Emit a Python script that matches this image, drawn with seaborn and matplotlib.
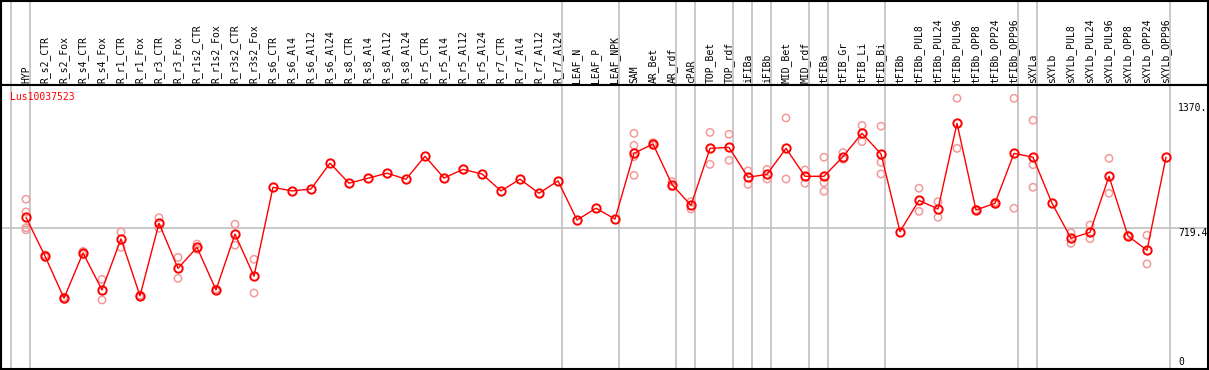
#!/usr/bin/env python3
"""
Expression profile of Lus10037523 across tissues/treatments (means + replicates).
"""
import matplotlib

matplotlib.use("Agg")
import matplotlib.pyplot as plt
import pandas as pd
import seaborn as sns

GENE = "Lus10037523"

samples = [
    "HYP", "R_s2_CTR", "R_s2_Fox", "R_s4_CTR", "R_s4_Fox", "R_r1_CTR", "R_r1_Fox",
    "R_r3_CTR", "R_r3_Fox", "R_r1s2_CTR", "R_r1s2_Fox", "R_r3s2_CTR", "R_r3s2_Fox",
    "R_s6_CTR", "R_s6_Al4", "R_s6_Al12", "R_s6_Al24", "R_s8_CTR", "R_s8_Al4",
    "R_s8_Al12", "R_s8_Al24", "R_r5_CTR", "R_r5_Al4", "R_r5_Al12", "R_r5_Al24",
    "R_r7_CTR", "R_r7_Al4", "R_r7_Al12", "R_r7_Al24", "LEAF_N", "LEAF_P", "LEAF_NPK",
    "SAM", "AR_Bet", "AR_rdf", "cPAR", "TOP_Bet", "TOP_rdf", "iFIBa", "iFIBb",
    "MID_Bet", "MID_rdf", "tFIBa", "tFIB_Gr", "tFIB_Li", "tFIB_Bi", "tFIBb",
    "tFIBb_PUL8", "tFIBb_PUL24", "tFIBb_PUL96", "tFIBb_OPP8", "tFIBb_OPP24",
    "tFIBb_OPP96", "sXYLa", "sXYLb", "sXYLb_PUL8", "sXYLb_PUL24", "sXYLb_PUL96",
    "sXYLb_OPP8", "sXYLb_OPP24", "sXYLb_OPP96",
]

means = [
    777, 576, 357, 592, 400, 665, 369, 746, 512, 621, 400, 690, 471,
    933, 914, 924, 1058, 954, 980, 1006, 975, 1094, 981, 1026, 1002,
    914, 975, 902, 966, 763, 824, 768,
    1109, 1158, 947, 839, 1135, 1140, 985, 1000, 1135, 990, 990, 1092, 1213, 1106,
    703, 865, 820, 1265, 815, 850, 1109, 1089, 850, 668, 699, 990, 680, 606, 1089,
]

replicates = [
    [871, 805, 723, 712], [582, 570], [362, 352], [600, 584], [455, 348],
    [701, 621], [373, 365], [775, 720], [569, 460], [638, 611], [404, 396],
    [741, 632], [559, 384],
    [], [], [], [], [], [], [], [], [], [], [], [], [], [], [], [], [], [], [],
    [1213, 1151, 1092, 995], [1165, 1150], [962, 936], [858, 820], [1218, 1052],
    [1208, 1073], [1018, 948], [1026, 976], [1293, 976], [1023, 954],
    [1089, 957, 912], [1113, 1078], [1254, 1170], [1250, 1063, 1002], [],
    [928, 808], [858, 777], [1395, 1135], [818, 812], [855, 845], [1395, 824],
    [1281, 1050, 933], [], [697, 642], [737, 666], [1083, 902], [683, 677],
    [684, 535], [],
]

# group dividers are drawn just right of these samples (None = before the first one)
dividers = [None, "HYP", "R_r7_Al24", "LEAF_NPK", "AR_rdf", "cPAR", "TOP_rdf",
            "iFIBa", "iFIBb", "MID_rdf", "tFIBa", "tFIB_Bi", "tFIBb_OPP96",
            "sXYLa", "sXYLb_OPP96"]

y_ticks = [0, 719.4, 1370]
y_tick_labels = ["0", "719.4", "1370."]

mean_df = pd.DataFrame({"pos": range(len(samples)), "value": means})
rep_df = pd.DataFrame(
    [(i, v) for i, reps in enumerate(replicates) for v in reps], columns=["pos", "value"]
)

sns.set_style("white")
plt.rcParams["font.family"] = ["DejaVu Sans Mono"]

W, H = 1209, 370
fig = plt.figure(figsize=(W / 100, H / 100), dpi=100)
ax_top = fig.add_axes([1 / W, 1 - 85 / H, 1206.5 / W, 84.5 / H])
ax = fig.add_axes([1 / W, 1 - 368.5 / H, 1206.5 / W, (368.5 - 85) / H], sharex=ax_top)

xlim = (-25 / 19, 1181.5 / 19)
ax.set_xlim(*xlim)
ax.set_ylim(-8, 1464)
ax_top.set_ylim(0, 1)

grey = "#c0c0c0"
div_x = [(-1 if d is None else samples.index(d)) + 4 / 19 for d in dividers]
for x in div_x:
    ax.axvline(x, color=grey, lw=1.2, zorder=0)
    ax_top.axvline(x, color=grey, lw=1.2, zorder=0)
ax.axhline(719.4, color=grey, lw=1.2, zorder=0)

sns.scatterplot(data=rep_df, x="pos", y="value", ax=ax, marker="o", s=28,
                facecolors="none", edgecolor="#f29a9a", linewidth=1.1, zorder=2)
sns.lineplot(data=mean_df, x="pos", y="value", ax=ax, color="red", lw=1,
             marker="o", markersize=6, markerfacecolor="none",
             markeredgecolor="red", markeredgewidth=1.4, zorder=3)

for i, name in enumerate(samples):
    ax_top.text(i, 2 / 84.5, name, rotation=90, ha="center", va="bottom",
                fontsize=7, color="black")

tx = (1178 - 26) / 19
for v, lab in zip(y_ticks, y_tick_labels):
    ax.text(tx, v, lab, ha="left", va="bottom" if v == 0 else "top",
            fontsize=7, color="black")

ax.text((10 - 26) / 19, 1403, GENE, ha="left", va="center", fontsize=7, color="red")

for a in (ax, ax_top):
    a.set_xticks([])
    a.set_yticks([])
    a.set_xlabel("")
    a.set_ylabel("")
    for sp in a.spines.values():
        sp.set_color("black")
        sp.set_linewidth(1.5)

fig.savefig("out.png", dpi=100)
